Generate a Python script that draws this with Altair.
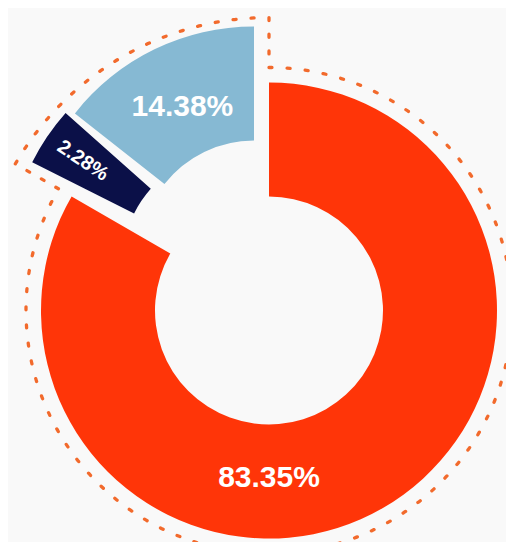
import math
import altair as alt
import pandas as pd

# ---- data ----
keys = ["s1", "s2", "s3"]
values = [83.35, 2.28, 14.38]
labels = ["83.35%", "2.28%", "14.38%"]
colors = ["#FF3508", "#0B1048", "#86B9D3"]

# ---- style ----
MIN_ANGLE = 15          # smallest visible slice angle (deg), centred on the true position
R_IN, R_OUT = 114, 228
OUT_R_MAIN, OUT_R_EXPL = 243, 293
DOT_COLOR = "#F26A2C"
FONT = "Liberation Sans"
explode = {"s1": (0, 0), "s2": (-33, -46), "s3": (-15, -56)}
label_style = {
    "s1": dict(size=30, angle=0, radius=167.5, fixed_theta=math.pi),
    "s2": dict(size=20, angle=34, radius=185),
    "s3": dict(size=30, angle=0, radius=164),
}

df = pd.DataFrame({"key": keys, "value": values, "text": labels, "order": list(range(len(keys)))})

theta_scale = alt.Scale(domain=[0, 360], range=[0, 2 * math.pi])
color = alt.Color("key:N", scale=alt.Scale(domain=keys, range=colors), legend=None)

base = (
    alt.Chart(df)
    .transform_joinaggregate(total="sum(value)")
    .transform_window(cum="sum(value)", sort=[alt.SortField("order")], frame=[None, 0])
    .transform_calculate(
        start="(datum.cum - datum.value) / datum.total * 360",
        end="datum.cum / datum.total * 360",
    )
    .transform_calculate(
        mid="(datum.start + datum.end) / 2",
        span=f"max(datum.end - datum.start, {MIN_ANGLE})",
    )
    .transform_calculate(
        t0="datum.mid - datum.span / 2",
        t1="datum.mid + datum.span / 2",
    )
)


def dash_array(segments, dash=3, period=18.3):
    arr = []
    for length, visible in segments:
        if visible:
            n = max(1, round(length / period))
            p = length / n
            for _ in range(n):
                arr += [dash, p - dash]
        else:
            if arr:
                arr[-1] += length
            else:
                arr += [0, length]
    return [round(v, 3) for v in arr]


frac = values[0] / sum(values)
span_main = 2 * math.pi * frac
span_expl = 2 * math.pi * (1 - frac)
step = OUT_R_EXPL - OUT_R_MAIN

dash_main = dash_array([(OUT_R_MAIN * span_main, True), (1e4, False)])
dash_expl = dash_array([
    (OUT_R_EXPL * span_expl, True),
    (step, True),
    (OUT_R_MAIN * span_expl, False),
    (step, True),
    (1e4, False),
])

dot_style = dict(fillOpacity=0, stroke=DOT_COLOR, strokeWidth=3.3, strokeCap="round")

outline_main = (
    base.transform_filter(alt.datum.key == keys[0])
    .mark_arc(innerRadius=0, outerRadius=OUT_R_MAIN, strokeDash=dash_main, **dot_style)
    .encode(theta=alt.Theta("start:Q", scale=theta_scale, stack=False), theta2="end:Q")
)
outline_expl = (
    base.transform_filter(alt.datum.key == keys[0])
    .transform_calculate(full="360")
    .mark_arc(innerRadius=OUT_R_MAIN, outerRadius=OUT_R_EXPL, strokeDash=dash_expl, **dot_style)
    .encode(theta=alt.Theta("end:Q", scale=theta_scale, stack=False), theta2="full:Q")
)

slices = []
texts = []
for k in keys:
    dx, dy = explode[k]
    slices.append(
        base.transform_filter(alt.datum.key == k)
        .mark_arc(innerRadius=R_IN, outerRadius=R_OUT, xOffset=dx, yOffset=dy)
        .encode(theta=alt.Theta("t0:Q", scale=theta_scale, stack=False), theta2="t1:Q", color=color)
    )
    st = label_style[k]
    if "fixed_theta" in st:
        th = alt.value(st["fixed_theta"])
    else:
        th = alt.Theta("mid:Q", scale=theta_scale, stack=False)
    texts.append(
        base.transform_filter(alt.datum.key == k)
        .mark_text(font=FONT, fontWeight="bold", fontSize=st["size"], color="white",
                   angle=st["angle"], align="center", baseline="middle", xOffset=dx, yOffset=dy)
        .encode(theta=th, radius=alt.value(st["radius"]), text="text:N")
    )

chart = (
    alt.layer(outline_main, outline_expl, *slices, *texts)
    .properties(
        width=474,
        height=462,
        background="#F9F9F9",
        padding={"left": 24, "top": 71.5, "right": 0, "bottom": 0},
        autosize=alt.AutoSizeParams(type="none"),
    )
    .configure_view(stroke=None)
)

chart.save("out.html", embed_options={"renderer": "svg", "actions": False})
